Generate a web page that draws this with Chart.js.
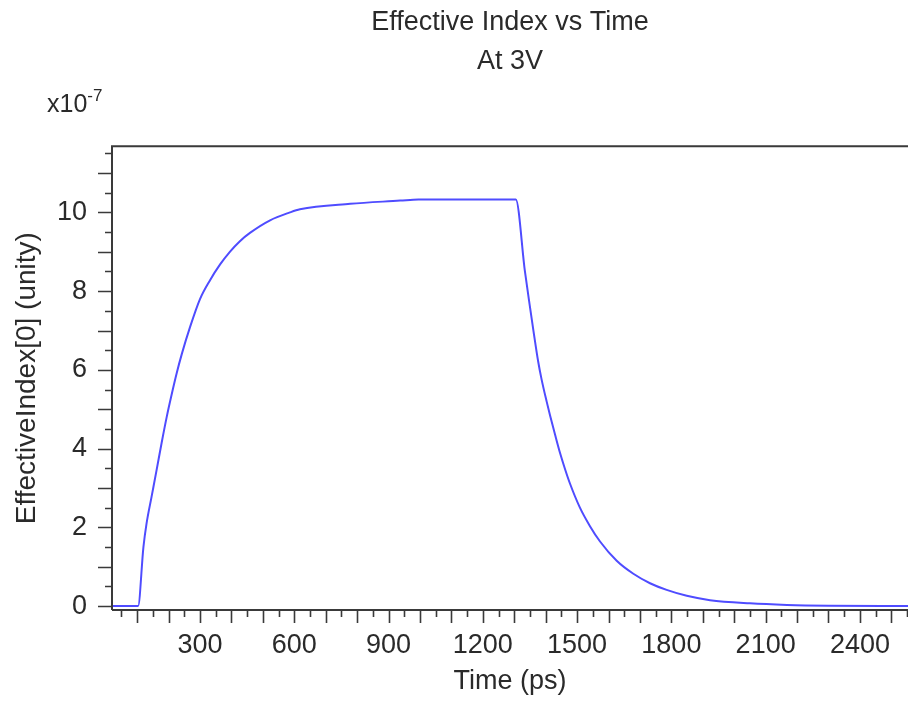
<!DOCTYPE html>
<html>
<head>
<meta charset="utf-8">
<script src="https://cdn.jsdelivr.net/npm/chart.js@4.4.1/dist/chart.umd.min.js"></script>
<style>
  html, body { margin: 0; padding: 0; background: #fff; }
  #wrap { width: 908px; height: 704px; }
</style>
</head>
<body>
<div id="wrap"><canvas id="myChart1" width="908" height="704"></canvas></div>
<script>
  // Time in ps, effective index in units of 1e-7
  const timePs = [20, 103, 120, 130, 146, 162, 178, 194, 210, 226, 242, 268, 300, 332, 364, 395, 427, 459, 523, 586, 618,
    778, 937, 995, 1305, 1334, 1350, 1361, 1376, 1387, 1403, 1414, 1430, 1446, 1462, 1477, 1509, 1541, 1573,
    1626, 1679, 1732, 1785, 1849, 1923, 2050, 2168, 2300, 2560];
  const indexE7 = [0, 0, 1.5, 2.1, 2.78, 3.46, 4.15, 4.8, 5.38, 5.92, 6.4, 7.08, 7.8, 8.28, 8.68, 9.0, 9.27, 9.48, 9.8, 10.0, 10.08,
    10.22, 10.3, 10.33, 10.33, 8.5, 7.6, 7.0, 6.22, 5.76, 5.2, 4.84, 4.35, 3.88, 3.47, 3.12, 2.5, 2.03, 1.64,
    1.15, 0.82, 0.58, 0.41, 0.26, 0.15, 0.07, 0.03, 0.01, 0.0];

  // Tick labels
  const xTickLabels = [300, 600, 900, 1200, 1500, 1800, 2100, 2400];
  const yTickLabels = [0, 2, 4, 6, 8, 10];

  const FONT = "'Liberation Sans', Arial, sans-serif";
  const TEXT = '#2a2a2a';
  const AXIS = '#3a3a3a';

  // frame, tick marks (long/short) and the x10^-7 multiplier
  const frameTicks = {
    id: 'frameTicks',
    afterDraw(chart) {
      const { ctx, chartArea: a, scales: { x, y } } = chart;
      ctx.save();
      ctx.strokeStyle = AXIS;
      ctx.lineWidth = 2;
      ctx.beginPath();
      ctx.moveTo(a.left, a.bottom);
      ctx.lineTo(a.left, a.top);
      ctx.lineTo(a.right, a.top);
      ctx.moveTo(a.left, a.bottom);
      ctx.lineTo(a.right, a.bottom);
      ctx.stroke();

      ctx.lineWidth = 1.6;
      ctx.beginPath();
      x.ticks.forEach(t => {
        const px = Math.round(x.getPixelForValue(t.value)) + 0.5;
        const len = t.value % 100 === 0 ? 13 : 7;
        ctx.moveTo(px, a.bottom);
        ctx.lineTo(px, a.bottom + len);
      });
      y.ticks.forEach(t => {
        const py = Math.round(y.getPixelForValue(t.value)) + 0.5;
        const len = Number.isInteger(t.value) ? 14 : 7;
        ctx.moveTo(a.left, py);
        ctx.lineTo(a.left - len, py);
      });
      ctx.stroke();

      ctx.fillStyle = TEXT;
      ctx.textBaseline = 'alphabetic';
      ctx.textAlign = 'left';
      ctx.font = '25px ' + FONT;
      ctx.fillText('x10', 47, 112);
      const w = ctx.measureText('x10').width;
      ctx.font = '17px ' + FONT;
      ctx.fillText('-7', 47 + w, 101);
      ctx.restore();
    }
  };

  const config1 = {
    type: 'line',
    data: {
      labels: timePs,
      datasets: [
        {
          label: 'EffectiveIndex[0]',
          data: timePs.map((t, i) => ({ x: t, y: indexE7[i] })),
          borderColor: '#4f4cff',
          borderWidth: 2,
          pointRadius: 0,
          cubicInterpolationMode: 'monotone',
          fill: false
        }
      ]
    },
    options: {
      responsive: false,
      animation: false,
      layout: { padding: 0 },
      plugins: {
        legend: { display: false },
        tooltip: { enabled: false },
        title: {
          display: true,
          fullSize: false,
          text: ['Effective Index vs Time', 'At 3V'],
          color: TEXT,
          font: { family: FONT, size: 27, weight: 'normal', lineHeight: 1.45 },
          padding: { top: 3, bottom: 65 }
        }
      },
      scales: {
        x: {
          type: 'linear',
          min: 20,
          max: 2553,
          afterFit: s => { s.height = 94; s.paddingLeft = 0; s.paddingRight = 0; },
          afterBuildTicks: s => {
            const ticks = [];
            for (let v = 50; v <= 2550; v += 50) ticks.push({ value: v });
            s.ticks = ticks;
          },
          grid: { display: false, drawTicks: false },
          border: { display: false },
          ticks: {
            autoSkip: false,
            maxRotation: 0,
            padding: 19,
            color: TEXT,
            font: { family: FONT, size: 27 },
            callback: v => xTickLabels.includes(v) ? String(v) : ''
          },
          title: {
            display: true,
            text: 'Time (ps)',
            color: TEXT,
            font: { family: FONT, size: 27 },
            padding: { top: 0, bottom: 6 }
          }
        },
        y: {
          type: 'linear',
          min: -0.1,
          max: 11.68,
          afterFit: s => { s.width = 112; },
          afterBuildTicks: s => {
            const ticks = [];
            for (let v = 0; v <= 11.5; v += 0.5) ticks.push({ value: v });
            s.ticks = ticks;
          },
          grid: { display: false, drawTicks: false },
          border: { display: false },
          ticks: {
            autoSkip: false,
            padding: 25,
            color: TEXT,
            font: { family: FONT, size: 27 },
            callback: v => yTickLabels.includes(v) ? String(v) : ''
          },
          title: {
            display: true,
            text: 'EffectiveIndex[0] (unity)',
            color: TEXT,
            font: { family: FONT, size: 28 },
            padding: { top: 10, bottom: 0 }
          }
        }
      }
    },
    plugins: [frameTicks]
  };

  const ctx = document.getElementById('myChart1').getContext('2d');
  const myChart1 = new Chart(ctx, config1);
</script>
</body>
</html>
